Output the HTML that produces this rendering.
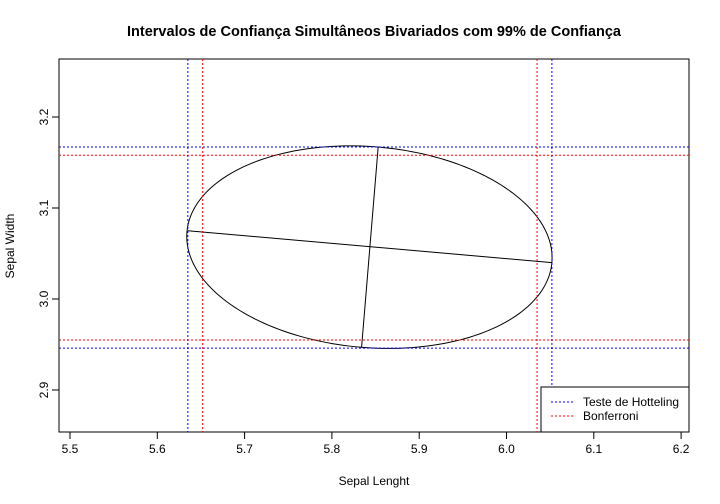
<!DOCTYPE html>
<html><head><meta charset="utf-8"><style>
body{margin:0;background:#fff;}
svg{display:block;font-family:"Liberation Sans",Arial,sans-serif;}
</style></head><body>
<svg id="chart" width="720" height="504" viewBox="0 0 720 504"></svg>
<script>
const xTicks=[5.5,5.6,5.7,5.8,5.9,6.0,6.1,6.2];
const xTickLabels=["5.5","5.6","5.7","5.8","5.9","6.0","6.1","6.2"];
const yTicks=[2.9,3.0,3.1,3.2];
const yTickLabels=["2.9","3.0","3.1","3.2"];
const center=[5.843,3.057];
const majorEnd1=[5.635,3.075];
const majorEnd2=[6.052,3.040];
const minorEnd1=[5.853,3.167];
const minorEnd2=[5.834,2.947];
const hotellingX=[5.635,6.052];
const hotellingY=[2.946,3.167];
const bonferroniX=[5.652,6.035];
const bonferroniY=[2.955,3.158];

const L=59,R=689,T=59,B=432;
const sx=v=>70+(v-5.5)*873;
const sy=v=>117+(3.2-v)*910;
const svg=document.getElementById('chart');
const NS='http://www.w3.org/2000/svg';
function mk(tag,attrs,name,text){const e=document.createElementNS(NS,tag);for(const k in attrs)e.setAttribute(k,attrs[k]);


if(text!==undefined)e.textContent=text;svg.appendChild(e);return e;}

mk('text',{x:374,y:36,'text-anchor':'middle','font-size':14.5,'font-weight':'bold'},'chart-title','Intervalos de Confiança Simultâneos Bivariados com 99% de Confiança');
mk('rect',{x:L,y:T,width:R-L,height:B-T,fill:'none',stroke:'#000'},'plot-frame');
xTicks.forEach((v,i)=>{const x=sx(v);
 mk('line',{x1:x,x2:x,y1:B,y2:B+7,stroke:'#000'},'x-tick');
 mk('text',{x:x,y:B+21,'text-anchor':'middle','font-size':12},'x-tick-label',xTickLabels[i]);});
yTicks.forEach((v,i)=>{const y=sy(v);
 mk('line',{x1:L,x2:L-7,y1:y,y2:y,stroke:'#000'},'y-tick');
 mk('text',{x:L-14,y:y,'text-anchor':'middle','font-size':12,transform:`rotate(-90 ${L-14} ${y})`,'dominant-baseline':'middle'},'y-tick-label',yTickLabels[i]);});
mk('text',{x:374,y:485,'text-anchor':'middle','font-size':12},'x-axis-title','Sepal Lenght');
mk('text',{x:14,y:246,'text-anchor':'middle','font-size':12,transform:'rotate(-90 14 246)'},'y-axis-title','Sepal Width');

const cx=sx(center[0]),cy=sy(center[1]);
const ax=sx(majorEnd2[0])-cx,ay=sy(majorEnd2[1])-cy;
const bx=sx(minorEnd1[0])-cx,by=sy(minorEnd1[1])-cy;
let d='';for(let i=0;i<=200;i++){const t=i/200*2*Math.PI;const px=cx+ax*Math.cos(t)+bx*Math.sin(t),py=cy+ay*Math.cos(t)+by*Math.sin(t);d+=(i?'L':'M')+px.toFixed(2)+' '+py.toFixed(2);}
mk('path',{d:d,fill:'none',stroke:'#000'},'confidence-ellipse');
mk('line',{x1:sx(majorEnd1[0]),y1:sy(majorEnd1[1]),x2:sx(majorEnd2[0]),y2:sy(majorEnd2[1]),stroke:'#000'},'major-axis');
mk('line',{x1:sx(minorEnd1[0]),y1:sy(minorEnd1[1]),x2:sx(minorEnd2[0]),y2:sy(minorEnd2[1]),stroke:'#000'},'minor-axis');

function vl(v,c,n){mk('line',{x1:sx(v),x2:sx(v),y1:T,y2:B,stroke:c,'stroke-dasharray':'2 2'},n);}
function hl(v,c,n){mk('line',{x1:L,x2:R,y1:sy(v),y2:sy(v),stroke:c,'stroke-dasharray':'2 2'},n);}
hotellingX.forEach(v=>vl(v,'#0000ff','hotelling-x-line'));
hotellingY.forEach(v=>hl(v,'#0000ff','hotelling-y-line'));
bonferroniX.forEach(v=>vl(v,'#ff0000','bonferroni-x-line'));
bonferroniY.forEach(v=>hl(v,'#ff0000','bonferroni-y-line'));

mk('rect',{x:541,y:387,width:148,height:45,fill:'#fff',stroke:'#000'},'legend-box');
mk('line',{x1:551,x2:574,y1:402,y2:402,stroke:'#0000ff','stroke-dasharray':'2 2'},'legend-hotelling-line');
mk('text',{x:583,y:406,'font-size':12},'legend-hotelling-label','Teste de Hotteling');
mk('line',{x1:551,x2:574,y1:416,y2:416,stroke:'#ff0000','stroke-dasharray':'2 2'},'legend-bonferroni-line');
mk('text',{x:583,y:420,'font-size':12},'legend-bonferroni-label','Bonferroni');
</script>
</body></html>
